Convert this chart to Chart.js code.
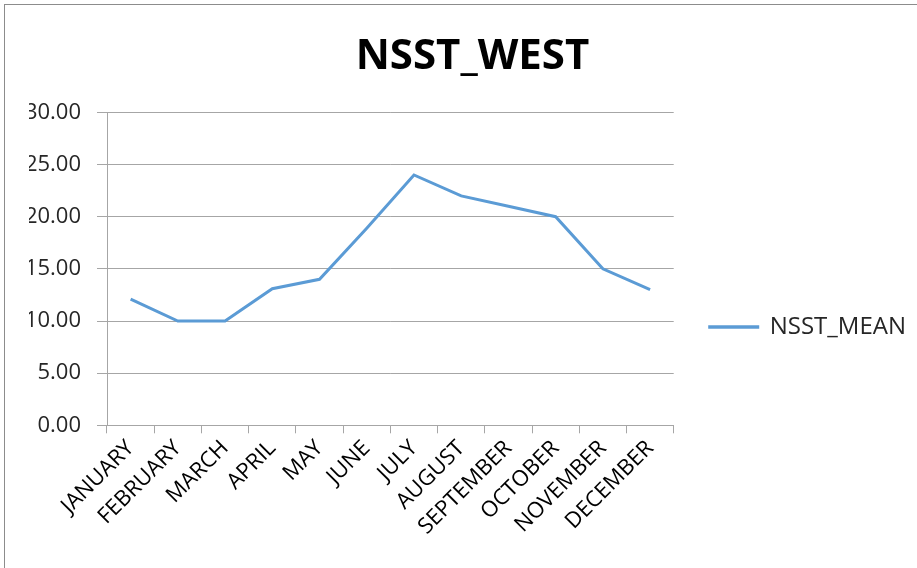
<!DOCTYPE html>
<html>
<head>
<meta charset="utf-8">
<script src="https://cdn.jsdelivr.net/npm/chart.js@4/dist/chart.umd.min.js"></script>
<style>
    html, body { margin: 0; padding: 0; background: #fff; }
    #wrap {
        position: absolute; left: 0; top: 0; width: 917px; height: 568px;
    }
    #frame {
        position: absolute; left: 4px; top: 4px; right: 0; bottom: 0;
        border-left: 1px solid #8c8c8c; border-top: 1px solid #8c8c8c;
    }
    canvas { position: absolute; left: 0; top: 0; }
</style>
</head>
<body>
<div id="wrap">
    <div id="frame"></div>
    <canvas id="sstChart" width="917" height="568"></canvas>
</div>
<script>
const months = ["JANUARY", "FEBRUARY", "MARCH", "APRIL", "MAY", "JUNE",
    "JULY", "AUGUST", "SEPTEMBER", "OCTOBER", "NOVEMBER", "DECEMBER"];
const nsstMean = [12.1, 10.0, 10.0, 13.1, 14.0, 18.9, 24.0, 22.0, 21.0, 20.0, 15.0, 13.0];
const yTicks = [0, 5, 10, 15, 20, 25, 30];

const font = "'Open Sans', 'Noto Sans', sans-serif";
const gridColor = "#a6a6a6";

let sstChart;

function initChart() {
    const ctx = document.getElementById("sstChart");

    sstChart = new Chart(ctx, {
        type: "line",
        data: {
            labels: months,
            datasets: [{
                label: "NSST_MEAN",
                data: nsstMean,
                borderColor: "#5b9bd5",
                backgroundColor: "#5b9bd5",
                borderWidth: 3,
                pointRadius: 0,
                tension: 0,
                fill: false
            }]
        },
        options: {
            responsive: false,
            animation: false,
            layout: {
                padding: { left: 29, right: 1, top: 12, bottom: 26 }
            },
            plugins: {
                title: {
                    display: true,
                    text: "NSST_WEST",
                    color: "#000",
                    font: { family: font, size: 42, weight: "bold" },
                    padding: { top: 20, bottom: 30 }
                },
                legend: {
                    position: "right",
                    maxWidth: 300,
                    title: {
                        display: true,
                        text: " ",
                        font: { size: 1 },
                        padding: { top: 0, bottom: 99 }
                    },
                    labels: {
                        color: "#262626",
                        font: { family: font, size: 24 },
                        boxWidth: 48,
                        boxHeight: 0.5,
                        padding: 36
                    }
                },
                tooltip: { enabled: false }
            },
            scales: {
                x: {
                    offset: true,
                    grid: {
                        offset: true,
                        drawOnChartArea: false,
                        drawTicks: true,
                        tickLength: 8,
                        color: gridColor
                    },
                    border: { color: gridColor, width: 1 },
                    ticks: {
                        color: "#000",
                        font: { family: font, size: 22 },
                        minRotation: 45,
                        maxRotation: 45,
                        autoSkip: false,
                        padding: 2
                    }
                },
                y: {
                    min: 0,
                    max: 30,
                    afterBuildTicks: (axis) => {
                        axis.ticks = yTicks.map(v => ({ value: v }));
                    },
                    afterFit: (axis) => {
                        axis.width = 78;
                    },
                    grid: {
                        color: gridColor,
                        drawTicks: true,
                        tickLength: 10
                    },
                    border: { color: gridColor, width: 1 },
                    ticks: {
                        color: "#262626",
                        font: { family: font, size: 22 },
                        padding: 16,
                        callback: (v) => Number(v).toFixed(2)
                    }
                }
            }
        }
    });
}

initChart();
</script>
</body>
</html>
